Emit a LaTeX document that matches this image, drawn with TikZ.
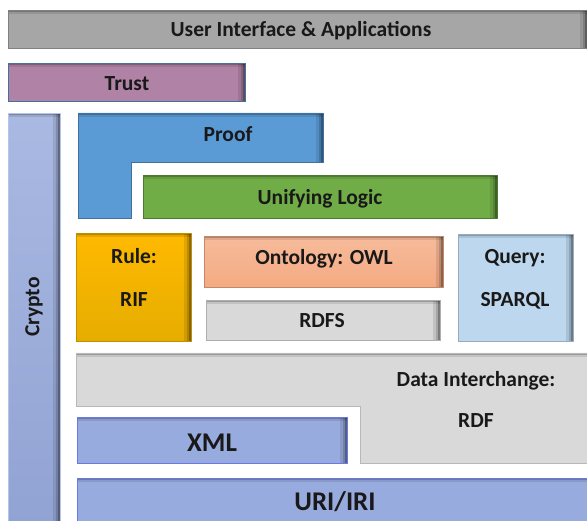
\documentclass[tikz,border=0pt]{standalone}
\usepackage{fontspec}
\setmainfont{Carlito}
\usepackage{tikz}
\usetikzlibrary{positioning}
\definecolor{uiGrey}{RGB}{166,166,166}
\definecolor{lightGrey}{RGB}{217,217,217}
\definecolor{trustMauve}{RGB}{176,131,166}
\definecolor{frameBlue}{RGB}{65,113,156}
\definecolor{proofBlue}{RGB}{91,155,213}
\definecolor{logicGreen}{RGB}{112,173,71}
\definecolor{ruleGold}{RGB}{255,192,0}
\definecolor{owlSalmon}{RGB}{244,170,130}
\definecolor{queryBlue}{RGB}{189,215,238}
\definecolor{xmlBlue}{RGB}{152,171,222}
\definecolor{cryptoTop}{RGB}{170,185,226}
\definecolor{inkDark}{RGB}{25,25,25}

\begin{document}
\begin{tikzpicture}[
  x=1pt, y=-1pt,
  font=\fontsize{21.5}{25}\selectfont\bfseries, text=inkDark,
  shadowed/.style={path picture={
      \foreach \w/\o in {2/0.25,4/0.15,7/0.1}
        \fill[black, opacity=\o] ([xshift=-\w pt]path picture bounding box.north east) rectangle (path picture bounding box.south east);
      \foreach \w/\o in {2/0.2,4/0.1}
        \fill[black, opacity=\o] (path picture bounding box.north west) rectangle ([yshift=-\w pt]path picture bounding box.north east);
  }},
  layer/.style={shadowed, draw, line width=0.8pt, inner sep=0pt, anchor=north west},
  lbl/.style={anchor=base, inner sep=0pt},
  big/.style={lbl, font=\fontsize{27}{30}\selectfont\bfseries}
]
\useasboundingbox (0,0) rectangle (587,521);

% top rows
\node[layer, fill=uiGrey, draw=gray, minimum width=579pt, minimum height=38pt] (ui) at (8,10) {};
\node[lbl] (uiT) at (301,37) {User Interface \& Applications};
\node[layer, fill=trustMauve, draw=frameBlue, minimum width=237pt, minimum height=38pt] (trust) at (8,63) {};
\node[lbl] (trustT) at (127,91) {Trust};

% left column
\node[layer, top color=cryptoTop, bottom color=xmlBlue!95!black, draw=xmlBlue!70!white, minimum width=52pt, minimum height=420pt] (crypto) at (8,113) {};
\node[rotate=90] (cryptoT) at (34,307) {Crypto};

% proof
\draw[shadowed, fill=proofBlue, draw=frameBlue, line width=0.8pt]
  (78,113) -- (323,113) -- (323,162) -- (131,162) -- (131,218) -- (78,218) -- cycle;
\node[lbl] (proof) at (228,142) {Proof};

\node[layer, fill=logicGreen, draw=logicGreen!70!black, minimum width=354pt, minimum height=43pt] (logic) at (143,175) {};
\node[lbl] (logicT) at (320,205) {Unifying Logic};

% middle row
\node[layer, top color=ruleGold!90!orange, bottom color=ruleGold!90!black, draw=ruleGold!75!black, minimum width=115pt, minimum height=108pt] (rule) at (76,233) {};
\node[lbl] (ruleA) at (134,264) {Rule:};
\node[lbl] (ruleB) at (134,307) {RIF};

\node[layer, top color=owlSalmon!80!white, bottom color=owlSalmon, draw=owlSalmon!80!black, minimum width=239pt, minimum height=51pt] (owl) at (204,236) {};
\node[lbl] (owlT) at (324,265) {Ontology: OWL};
\node[layer, fill=lightGrey, draw=lightGrey!80!black, minimum width=234pt, minimum height=40pt] (rdfs) at (206,300) {};
\node[lbl] (rdfsT) at (322,328) {RDFS};

\node[layer, fill=queryBlue, draw=queryBlue!80!black, minimum width=115pt, minimum height=107pt] (query) at (458,234) {};
\node[lbl] (queryA) at (515,264) {Query:};
\node[lbl] (queryB) at (515,307) {SPARQL};

% data interchange
\draw[shadowed, fill=lightGrey, draw=lightGrey!85!black, line width=0.8pt]
  (76,353) -- (600,353) -- (600,463) -- (360,463) -- (360,406) -- (76,406) -- cycle;
\node[lbl] (rdfA) at (476,387) {Data Interchange:};
\node[lbl] (rdfB) at (476,428) {RDF};

% bottom rows
\node[layer, fill=xmlBlue, draw=xmlBlue!70!blue, minimum width=270pt, minimum height=46pt] (xml) at (77,417) {};
\node[big] (xmlT) at (212,452) {XML};
\node[layer, fill=xmlBlue, draw=xmlBlue!70!blue, minimum width=530pt, minimum height=50pt] (uri) at (77,478) {};
\node[big] (uriT) at (335,511) {URI/IRI};
\end{tikzpicture}
\end{document}
